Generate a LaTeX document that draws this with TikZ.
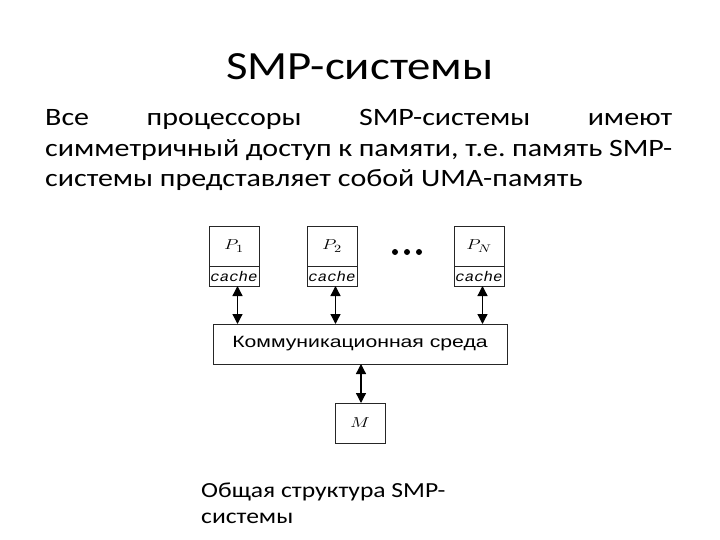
\documentclass[tikz,border=0pt]{standalone}
\usepackage{fontspec}
\usepackage{graphicx}
\setmainfont{Carlito}
\newfontfamily\boxfont{Liberation Sans}
\newfontfamily\cachefont{Liberation Mono}
\newcommand\widen[2][1.3]{\scalebox{#1}[1]{#2}}
\usetikzlibrary{positioning, arrows.meta}
\frenchspacing

\begin{document}
\begin{tikzpicture}
    [
        x=1pt, y=-1pt,
        basic/.style = {draw=black!85, line width=0.9pt, inner sep=0pt, outer sep=0pt, text centered},
        proc/.style = {basic, minimum width=50pt, minimum height=40pt, font=\fontsize{15}{17}\selectfont},
        cachebox/.style = {basic, minimum width=50pt, minimum height=20pt, font=\cachefont\itshape\fontsize{14}{16}\selectfont},
        bus/.style = {basic, minimum width=294pt, minimum height=40pt, font=\boxfont\fontsize{16.3}{18}\selectfont},
        txt/.style = {inner sep=0pt, anchor=base west},
        link/.style = {{Triangle[length=10pt, width=10pt]}-{Triangle[length=10pt, width=10pt]}, line width=1.3pt},
    ]
    \useasboundingbox [fill=white] (0,0) rectangle (720,540);

    % texts
    \node [inner sep=0pt, anchor=base, font=\fontsize{40}{48}\selectfont] (title) at (360,80) {\widen[1.17]{SMP-системы}};
    \node [txt, font=\fontsize{25}{30.5}\selectfont] (body) at (45,126)
        {\widen[1.2]{\parbox[t]{522.5pt}{\hyphenpenalty=10000
        Все процессоры SMP-системы имеют\linebreak симметричный доступ к памяти, т.е. память SMP-\linebreak системы представляет собой UMA-память}}};
    \node [txt, font=\fontsize{21.5}{26}\selectfont] (caption) at (201,497)
        {\widen[1.19]{\parbox[t]{220pt}{\raggedright Общая структура SMP-\\системы}}};

    % processors
    \node [proc] (p1) at (234,246) {\widen{$P_1$}};
    \node [proc, right=48pt of p1] (p2) {\widen{$P_2$}};
    \node [proc, right=97pt of p2] (pn) {\widen{$P_N$}};
    \node [cachebox, below=0pt of p1] (c1) {\widen[1.12]{cache}};
    \node [cachebox, below=0pt of p2] (c2) {\widen[1.12]{cache}};
    \node [cachebox, below=0pt of pn] (cn) {\widen[1.12]{cache}};

    \coordinate (dots) at (407,252);
    \foreach \i in {-12, 0, 12} \fill ([xshift=\i pt]dots) circle (3pt);

    \node [bus] (net) at (360,344) {\widen{Коммуникационная среда}};
    \node [proc, below=39pt of net] (mem) {\widen{$M$}};

    \foreach \i in {1, 2, n} \draw [link] ([xshift=3.5pt]c\i.south) -- ([xshift=3.5pt]c\i.south |- net.north);
    \draw [link] ([xshift=1pt]net.south) -- ([xshift=1pt]mem.north);

\end{tikzpicture}
\end{document}
